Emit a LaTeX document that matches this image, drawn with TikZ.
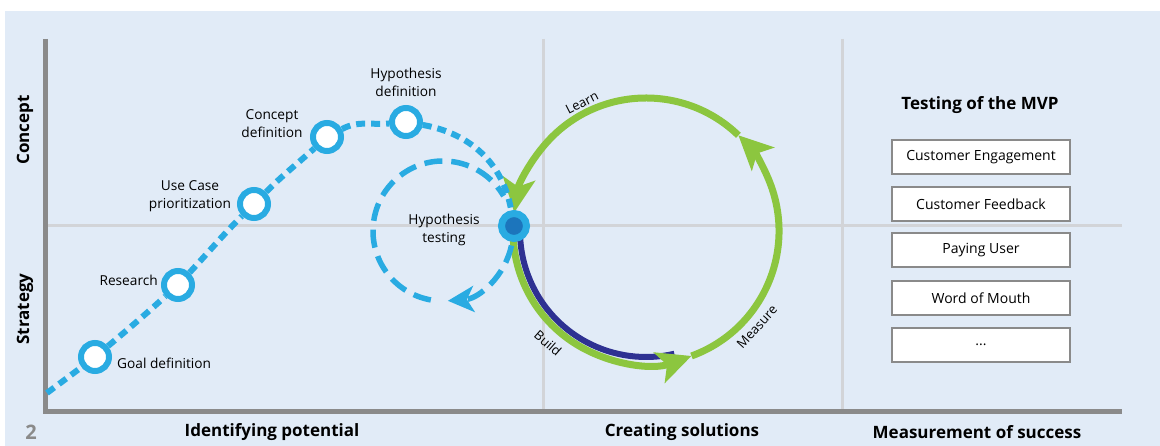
\documentclass[tikz,border=0pt]{standalone}
\usepackage{fontspec}
\setmainfont{Open Sans}
\usetikzlibrary{arrows.meta}
\definecolor{bgblue}{HTML}{E1EBF7}
\definecolor{lineblue}{HTML}{29ABE2}
\definecolor{loopgreen}{HTML}{8CC63F}
\definecolor{buildnavy}{HTML}{2E3192}
\definecolor{dotblue}{HTML}{1C75BC}
\definecolor{axisgrey}{HTML}{8A8A8A}
\definecolor{gridgrey}{HTML}{D2D4D8}
\begin{document}
\begin{tikzpicture}[x=1pt,y=1pt,
    stage/.style={circle,draw=lineblue,fill=white,line width=6pt,minimum size=28pt,inner sep=0pt},
    testdot/.style={circle,draw=lineblue,fill=dotblue,line width=7pt,minimum size=25pt,inner sep=0pt},
    lbl/.style={font=\fontsize{13.7}{18}\selectfont,align=center,inner sep=0pt},
    looplbl/.style={font=\fontsize{13}{14}\selectfont,inner sep=0pt},
    headlbl/.style={font=\fontsize{17}{20}\selectfont\bfseries,inner sep=0pt},
    kpi/.style={draw=axisgrey,fill=white,line width=1.2pt,minimum width=178pt,minimum height=34pt,font=\fontsize{14}{16}\selectfont},
    bluedash/.style={lineblue,line width=6pt,dash pattern=on 9pt off 6pt},
    loopdash/.style={lineblue,line width=5.5pt,dash pattern=on 18pt off 9pt},
    greenarc/.style={loopgreen,line width=7pt,-{Stealth[length=34pt,width=32pt,inset=8pt]}},
  ]
  \useasboundingbox (0,0) rectangle (1160,446);
  \fill[bgblue] (5,0) rectangle (1160,435);

  \draw[gridgrey,line width=3pt] (45,220) -- (1122,220);
  \draw[gridgrey,line width=3pt] (543,407) -- (543,34);
  \draw[gridgrey,line width=3pt] (842,407) -- (842,34);
  \draw[axisgrey,line width=5pt] (45,407) -- (45,34) -- (1122,34);

  \node[headlbl,rotate=90] (concepty) at (25,316) {Concept};
  \node[headlbl,rotate=90] (strategy) at (25,137) {Strategy};
  \node[headlbl,font=\fontsize{20}{22}\selectfont\bfseries,text=axisgrey] (pagenum) at (31,14) {2};
  \node[headlbl] (potential) at (272,14) {Identifying potential};
  \node[headlbl] (solutions) at (682,14) {Creating solutions};
  \node[headlbl] (success) at (977,14) {Measurement of success};

  % build - measure - learn
  \coordinate (loopc) at (646,215);
  \draw[buildnavy,line width=6pt] ([shift={(182:126)}]loopc) arc[start angle=182,end angle=283,radius=126];
  \draw[greenarc] ([shift={(178:133)}]loopc) arc[start angle=178,end angle=290,radius=133];
  \draw[greenarc] ([shift={(290:133)}]loopc) arc[start angle=290,end angle=406,radius=133];
  \draw[greenarc] ([shift={(46:133)}]loopc) arc[start angle=46,end angle=172,radius=133];
  \node[looplbl,rotate=27] (learn) at (582,343) {Learn};
  \node[looplbl,rotate=-41] (build) at (548,103) {Build};
  \node[looplbl,rotate=48] (measure) at (757,119) {Measure};

  \coordinate (smallc) at (443,215);
  \draw[loopdash,-{Stealth[length=26pt,width=26pt,inset=7pt]}] ([shift={(-12:70)}]smallc) arc[start angle=-12,end angle=-86,radius=70];
  \draw[loopdash] ([shift={(-100:70)}]smallc) arc[start angle=-100,end angle=-330,radius=70];

  \node[stage] (goal) at (95,89) {};
  \node[stage] (research) at (178,161) {};
  \node[stage] (usecase) at (254,242) {};
  \node[stage] (concept) at (327,309) {};
  \node[stage] (hypdef) at (406,324) {};
  \node[testdot] (hyptest) at (514,220) {};
  \coordinate (origin) at (47,53);

  \draw[bluedash] (origin) to[out=37,in=217] (goal)
    to[out=40,in=222] (research)
    to[out=47,in=225] (usecase)
    to[out=45,in=222] (concept)
    to[out=28,in=185] (hypdef)
    to[out=-10,in=100] (hyptest);

  \node[lbl,anchor=west] (goallbl) at (117,83) {Goal definition};
  \node[lbl,anchor=east] (researchlbl) at (158,166) {Research};
  \node[lbl] (usecaselbl) at (190,250) {Use Case\\prioritization};
  \node[lbl] (conceptlbl) at (272,322) {Concept\\definition};
  \node[lbl] (hypdeflbl) at (406,364) {Hypothesis\\definition};
  \node[lbl] (hyptestlbl) at (444,216) {Hypothesis\\testing};

  \node[headlbl] (mvp) at (980,341) {Testing of the MVP};
  \node[kpi] (engage) at (981,289) {Customer Engagement};
  \node[kpi] (feedback) at (981,242) {Customer Feedback};
  \node[kpi] (paying) at (981,196) {Paying User};
  \node[kpi] (mouth) at (981,148) {Word of Mouth};
  \node[kpi] (more) at (981,101) {...};
\end{tikzpicture}
\end{document}
